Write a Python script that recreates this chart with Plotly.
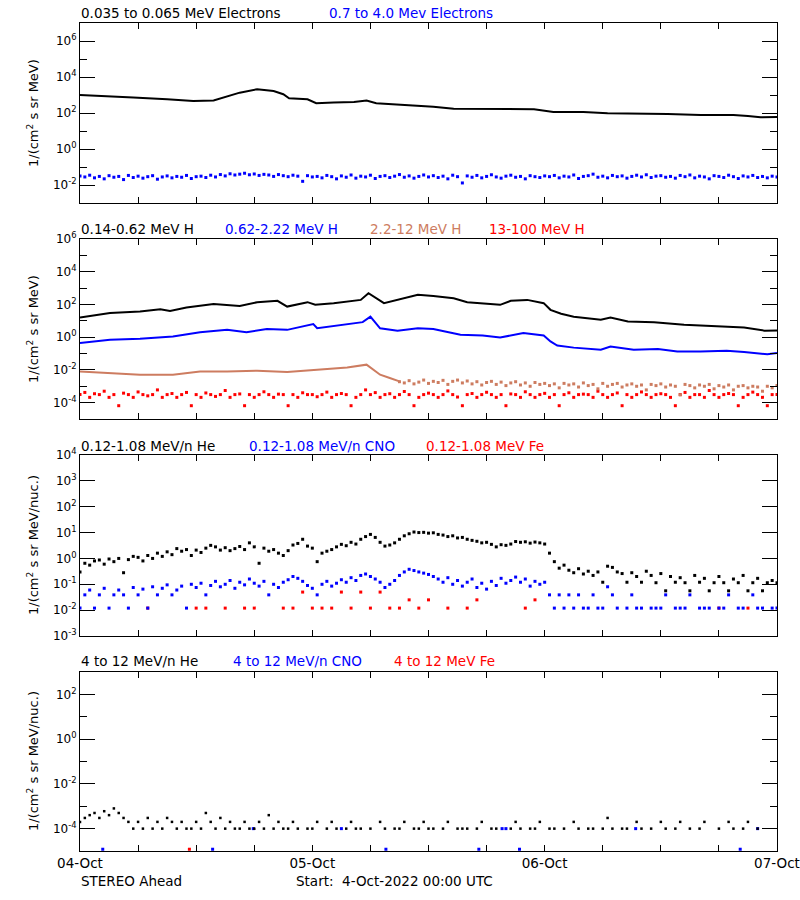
import numpy as np
import pandas as pd
import plotly.graph_objects as go

T0 = pd.Timestamp("2022-10-04 00:00")
T_END = pd.Timestamp("2022-10-07 00:00")


def to_time(hours):
    return T0 + pd.to_timedelta(np.asarray(hours, dtype=float), unit="h")


HALF_HOURS = np.arange(0, 72.5, 0.5)

# ---------------- Panel 1: electrons ----------------
e_lo_hours = [0, 3.1, 5.5, 9, 11.7, 13.8, 15.2, 16.5, 18.3, 20, 21, 21.6, 23.5, 24.4, 26.2, 28.3, 29.6, 30.6,
              32.7, 34.5, 36.5, 38.6, 41.7, 44, 46.9, 48.9, 52, 54.5, 57.3, 60.7, 64.1, 67.5, 69, 70.3, 72]
e_lo_vals = [1000, 870, 720, 580, 470, 500, 810, 1350, 2100, 1650, 1100, 660, 580, 350, 380, 410, 500, 350,
             295, 270, 225, 175, 175, 175, 160, 115, 115, 96, 95, 89, 78, 78, 68, 58, 60]

e_hi_vals = [0.032, 0.028, 0.035, 0.025, 0.030, 0.022, 0.033, 0.027, 0.030, 0.020, 0.034, 0.026, 0.031, 0.024,
             0.029, 0.033, 0.021, 0.028, 0.032, 0.025, 0.030, 0.027, 0.034, 0.023, 0.029,
             0.031, 0.026, 0.035, 0.028, 0.038, 0.032, 0.042, 0.036, 0.040, 0.045, 0.037, 0.041,
             0.034, 0.039, 0.036, 0.030, 0.038, 0.033, 0.029, 0.035, 0.031, 0.016, 0.033, 0.028,
             0.030, 0.025, 0.034, 0.029, 0.022, 0.032, 0.027, 0.036, 0.024, 0.031, 0.028, 0.035,
             0.023, 0.030, 0.033, 0.026, 0.031, 0.038, 0.027, 0.032, 0.024, 0.030, 0.036, 0.028,
             0.033, 0.026, 0.031, 0.022, 0.035, 0.029, 0.013, 0.032, 0.027, 0.034, 0.025, 0.030,
             0.037, 0.028, 0.024, 0.031, 0.035, 0.027, 0.030, 0.022, 0.033, 0.029, 0.026, 0.032,
             0.029, 0.034, 0.025, 0.031, 0.028, 0.036, 0.023, 0.030, 0.033, 0.040, 0.027, 0.031,
             0.025, 0.034, 0.029, 0.032, 0.024, 0.030, 0.035, 0.028, 0.037, 0.026, 0.031, 0.033,
             0.027, 0.030, 0.024, 0.034, 0.029, 0.036, 0.025, 0.031, 0.028, 0.022, 0.033, 0.030,
             0.026, 0.035, 0.029, 0.023, 0.032, 0.028, 0.034, 0.026, 0.030, 0.025, 0.031, 0.028]

# ---------------- Panel 2: protons ----------------
h1_hours = [0, 3.1, 6.2, 8.3, 9.3, 11, 13.8, 16.5, 18.3, 20.4, 21.4, 23.5, 24.3, 26.2, 29, 29.8, 31.4, 32.8,
            34.9, 36.5, 38.6, 40, 43.4, 44.5, 46.2, 47.9, 48.6, 49.7, 51, 53.8, 54.8, 56.6, 59.3, 62.4, 66.5,
            68.6, 70.7, 72]
h1_vals = [16, 30, 37, 51, 40, 65, 105, 81, 138, 166, 74, 138, 95, 120, 190, 490, 120, 190,
           390, 324, 240, 138, 95, 166, 190, 120, 47, 27, 18, 11.5, 16, 9.1, 8.3, 5.8, 4.5,
           3.9, 2.5, 2.6]

h2_hours = [0, 3.1, 6.2, 9.6, 12.4, 15.2, 17.2, 19.3, 21.4, 24.1, 24.5, 27.6, 29.2, 30, 31, 32.8, 34.9, 36.5,
            39.3, 41.6, 43.4, 45.8, 47.9, 48.6, 49.3, 51, 53.8, 54.8, 57.2, 59.7, 61.7, 64.1, 66.8, 68.6, 71, 72]
h2_vals = [0.44, 0.69, 0.79, 1.1, 2.0, 2.8, 2.0, 3.2, 2.8, 6.3, 3.5, 6.3, 8.3, 18, 3.5, 2.5, 3.5, 3.2,
           1.4, 1.26, 0.95, 1.8, 1.26, 0.55, 0.31, 0.23, 0.17, 0.27, 0.17, 0.19, 0.135, 0.135, 0.148, 0.123,
           0.091, 0.107]

h3_hours = [0, 3.1, 6.2, 9.6, 12.4, 15.2, 18.3, 21.4, 24.1, 27.6, 29.6, 30.2, 31, 32, 33]
h3_vals = [8.1e-3, 6.5e-3, 5.1e-3, 5.1e-3, 8.1e-3, 8.1e-3, 8.9e-3, 7.4e-3, 1.0e-2, 1.4e-2, 2.1e-2, 1.2e-2,
           5.1e-3, 3.2e-3, 2.0e-3]
h3_late_vals = [1.9e-3, 1.6e-3, 2.2e-3, 1.4e-3, 1.8e-3, 2.4e-3, 1.5e-3, 2.0e-3, 1.7e-3, 2.3e-3, 1.3e-3, 2.0e-3,
                2.4e-3, 1.6e-3, 2.1e-3, 1.4e-3, 1.9e-3, 1.2e-3, 1.7e-3, 2.0e-3, 1.3e-3, 1.8e-3, 1.1e-3, 1.6e-3,
                1.9e-3, 1.2e-3, 1.6e-3, 1.0e-3, 1.7e-3, 1.3e-3, 1.5e-3, 1.1e-3, 1.4e-3, 8e-4, 1.5e-3, 1.2e-3,
                1.4e-3, 9e-4, 1.6e-3, 1.1e-3, 1.3e-3, 7e-4, 1.5e-3, 1.0e-3, 1.3e-3, 1.5e-3, 9e-4, 1.2e-3,
                1.4e-3, 1.0e-3, 1.2e-3, 6e-4, 1.3e-3, 1.1e-3, 1.4e-3, 9e-4, 1.2e-3, 1.0e-3, 3e-4, 1.3e-3,
                1.1e-3, 8e-4, 1.2e-3, 1.0e-3, 1.3e-3, 7e-4, 1.1e-3, 9e-4, 1.2e-3, 6e-4, 1.0e-3, 1.1e-3,
                8e-4, 1.0e-3, 9e-4, 5e-4, 1.0e-3, 8e-4, 1.1e-3]

h4_vals = [3.1e-4, 4.2e-4, 2.1e-4, 3.5e-4, 3.1e-4, 5e-4, 2.1e-4, 3.1e-4, 6.5e-5, 3.8e-4, 3.1e-4, 2.1e-4,
           4.5e-4, 3.1e-4, 2.6e-4, 3.1e-4, 6e-4, 2.1e-4, 3.1e-4, 3.6e-4, 2.1e-4, 3.1e-4, 4.2e-4, 6.5e-5,
           3.1e-4, 2.1e-4, 3.9e-4, 3.1e-4, 2.4e-4, 3.1e-4, 5.5e-4, 2.1e-4, 3.1e-4, 3.4e-4, 6.5e-5, 3.1e-4,
           2.1e-4, 3.1e-4, 4.6e-4, 3.1e-4, 2.1e-4, 3.3e-4, 3.1e-4, 6.5e-5, 3.1e-4, 2.1e-4, 4e-4, 3.1e-4,
           3.1e-4, 2.3e-4, 3.1e-4, 4.4e-4, 2.1e-4, 3.1e-4, 3.6e-4, 3.1e-4, 6.5e-5, 2.1e-4, 3.1e-4, 6e-4,
           3.1e-4, 4.1e-4, 2.1e-4, 3.1e-4, 3.5e-4, 2.1e-4, 3.1e-4, 4.8e-4, 3.1e-4, 6.5e-5, 2.1e-4, 3.1e-4,
           3.8e-4, 3.1e-4, 2.1e-4, 3.1e-4, 5.2e-4, 3.1e-4, 2.2e-4, 6.5e-5, 3.1e-4, 3.6e-4, 2.1e-4, 3.1e-4,
           4.3e-4, 3.1e-4, 2.1e-4, 3.1e-4, 6.5e-5, 3.4e-4, 3.1e-4, 2.1e-4, 4.6e-4, 3.1e-4, 2.1e-4, 3.1e-4,
           3.7e-4, 2.1e-4, 3.1e-4, 6.5e-5, 3.1e-4, 4e-4, 2.1e-4, 3.1e-4, 3.3e-4, 3.1e-4, 2.1e-4, 5e-4,
           3.1e-4, 2.1e-4, 3.1e-4, 3.9e-4, 6.5e-5, 3.1e-4, 2.1e-4, 3.1e-4, 4.5e-4, 3.1e-4, 2.1e-4, 3.1e-4,
           3.5e-4, 3.1e-4, 2.1e-4, 6.5e-5, 3.1e-4, 4.2e-4, 2.1e-4, 3.1e-4, 3.1e-4, 2.1e-4, 5.5e-4, 3.1e-4,
           2.1e-4, 3.1e-4, 3.6e-4, 3.1e-4, 6.5e-5, 2.1e-4, 3.1e-4, 4.4e-4, 3.1e-4, 2.1e-4, 6.5e-5, 3.1e-4,
           3.1e-4]

# ---------------- Panel 3: low-energy ions ----------------
he_lo_vals = [0.30, 0.65, 0.55, 0.80, 0.87, 0.60, 0.95, 0.75, 1.0, 0.28, 0.90, 1.2,
              1.1, 0.80, 1.3, 1.0, 1.6, 1.2, 1.8, 1.4, 2.4, 1.9, 2.2, 1.3,
              2.1, 1.7, 2.5, 3.2, 2.8, 2.1, 2.6, 2.0, 2.4, 2.9, 2.2, 4.0,
              2.8, 0.65, 2.5, 1.9, 2.2, 1.6, 1.3, 2.0, 3.3, 3.8, 5.5, 3.0,
              2.5, 0.75, 1.6, 1.9, 2.2, 2.8, 3.5, 3.1, 4.2, 3.6, 5.5, 7.0,
              8.5, 6.5, 4.2, 3.0, 3.3, 4.0, 5.5, 7.5, 9.0, 10.5, 10.0, 10.2,
              9.5, 9.8, 8.5, 8.0, 7.0, 7.5, 6.2, 6.5, 5.5, 5.0, 4.6, 4.0,
              4.2, 3.5, 2.8, 3.4, 3.2, 3.6, 4.5, 4.2, 4.4, 3.9, 4.3, 4.0,
              3.6, 1.6, 0.75, 0.42, 0.55, 0.35, 0.28, 0.40, 0.25, 0.32, 0.22, 0.30,
              0.12, 0.50, 0.45, 0.30, 0.26, 0.12, 0.28, 0.20, 0.12, 0.32, 0.22, 0.115,
              0.26, 0.056, 0.20, 0.12, 0.18, 0.115, 0.056, 0.22, 0.12, 0.17, 0.056, 0.115,
              0.20, 0.115, 0.056, 0.16, 0.115, 0.22, 0.056, 0.115, 0.17, 0.056, 0.115, 0.14,
              0.115]

cno_lo_vals = [0.012, 0.039, 0.060, 0.012, 0.039, 0.070, 0.012, 0.039, 0.060, 0.039, 0.012, 0.075,
               0.039, 0.065, 0.012, 0.080, 0.039, 0.070, 0.095, 0.039, 0.060, 0.085, 0.012, 0.10,
               0.075, 0.11, 0.039, 0.090, 0.13, 0.080, 0.10, 0.14, 0.070, 0.12, 0.095, 0.16,
               0.11, 0.085, 0.13, 0.039, 0.10, 0.075, 0.12, 0.15, 0.20, 0.17, 0.13, 0.09,
               0.070, 0.039, 0.10, 0.13, 0.085, 0.11, 0.15, 0.12, 0.18, 0.14, 0.22, 0.25,
               0.20, 0.16, 0.12, 0.075, 0.10, 0.14, 0.22, 0.30, 0.38, 0.34, 0.30, 0.27,
               0.24, 0.20, 0.16, 0.12, 0.18, 0.10, 0.14, 0.085, 0.12, 0.16, 0.075, 0.11,
               0.065, 0.13, 0.09, 0.17, 0.11, 0.14, 0.19, 0.12, 0.16, 0.085, 0.13, 0.10,
               0.12, 0.039, 0.012, 0.039, 0.012, 0.039, 0.012, 0.039, 0.012, 0.012, 0.039, 0.012,
               0.012, 0.08, 0.039, 0.012, None, 0.012, 0.039, 0.012, 0.012, None, 0.012, 0.012,
               0.012, 0.039, None, 0.012, 0.012, 0.012, 0.039, None, 0.012, 0.012, 0.012, None,
               0.012, 0.012, 0.039, None, 0.012, 0.012, None, 0.039, 0.012, 0.012, None, 0.012,
               0.012]

fe_lo_vals = [None, None, None, None, None, None, None, 0.012, None, None, None, None,
              0.012, 0.012, None, 0.012, None, 0.012, 0.012, None, None, 0.012, 0.012, 0.05,
              0.012, 0.012, 0.012, 0.05, 0.012, 0.05, 0.012, 0.05, 0.012, 0.012, 0.025, 0.012,
              0.025, None, 0.012, None, 0.012, 0.025, None, None, None, None, 0.012, 0.025,
              None, None, None, None, None, None, None, None, None, None, None, None,
              None, None, None, None, None, None, 0.012, None, None, 0.012, None, None,
              None]

# ---------------- Panel 4: high-energy ions ----------------
he_hi_vals = [2e-4, 3e-4, 4e-4, 5e-4, 3e-4, 6e-4, 4e-4, 8e-4, 5e-4, 3e-4, 2e-4, 1e-4,
              2e-4, 1e-4, 3e-4, 1e-4, 2e-4, 1e-4, 3e-4, 2e-4, 1e-4, 2e-4, 1e-4, 1e-4,
              2e-4, 1e-4, 5e-4, 2e-4, 1e-4, 3e-4, 1e-4, 2e-4, 1e-4, 1e-4, 2e-4, 1e-4,
              1e-4, 2e-4, 1e-4, 4e-4, 1e-4, 2e-4, 1e-4, 1e-4, 2e-4, 1e-4, None, 1e-4,
              1e-4, 2e-4, None, 1e-4, 2e-4, 1e-4, None, 1e-4, 2e-4, 1e-4, 1e-4, None,
              1e-4, None, 2e-4, 1e-4, None, 1e-4, 1e-4, 2e-4, None, 1e-4, 1e-4, 2e-4,
              1e-4, 1e-4, None, 1e-4, 2e-4, None, 1e-4, 1e-4, 1e-4, None, 1e-4, 2e-4,
              None, 1e-4, 1e-4, None, None, 1e-4, 2e-4, 1e-4, None, 1e-4, 1e-4, 2e-4,
              None, 1e-4, 1e-4, None, 1e-4, None, 2e-4, 1e-4, None, 1e-4, 1e-4, None,
              1e-4, 3e-4, 1e-4, None, 1e-4, 1e-4, None, 2e-4, 1e-4, None, 1e-4, None,
              2e-4, 1e-4, None, 1e-4, 2e-4, None, 1e-4, None, 1e-4, 2e-4, None, None,
              1e-4, None, 2e-4, 1e-4, None, 1e-4, 2e-4, None, 1e-4, None, None, None,
              None]

cno_hi_hours = [2.35, 13.7, 17.9, 27.0, 31.6, 41.2, 43.6, 44.0, 45.4, 57.4, 68.2, 70.0]
cno_hi_vals = [1.2e-5, 1.2e-5, 1e-4, 1e-4, 1.2e-5, 1.2e-5, 1e-4, 1e-4, 1.2e-5, 1e-4, 1.2e-5, 1e-4]

fe_hi_hours = [11.3]
fe_hi_vals = [1.2e-5]

# ---------------- styling ----------------
BLACK = "#000000"
BLUE = "#0000ff"
BROWN = "#cd7c60"
RED = "#ff0000"
FONT = "DejaVu Sans"

fig = go.Figure()


def line(hours, vals, color, ax, width=2):
    fig.add_trace(go.Scatter(x=to_time(hours), y=vals, mode="lines",
                             line=dict(color=color, width=width),
                             xaxis=ax[0], yaxis=ax[1], hoverinfo="skip"))


def dots(hours, vals, color, ax, size=3):
    fig.add_trace(go.Scatter(x=to_time(hours), y=vals, mode="markers",
                             marker=dict(color=color, size=size, symbol="square", line=dict(width=0)),
                             xaxis=ax[0], yaxis=ax[1], hoverinfo="skip"))


A1, A2, A3, A4 = ("x", "y"), ("x2", "y2"), ("x3", "y3"), ("x4", "y4")

line(e_lo_hours, e_lo_vals, BLACK, A1)
dots(HALF_HOURS, e_hi_vals, BLUE, A1)

dots(HALF_HOURS, h4_vals, RED, A2)
dots(HALF_HOURS[66:], h3_late_vals, BROWN, A2)
line(h3_hours, h3_vals, BROWN, A2)
line(h2_hours, h2_vals, BLUE, A2)
line(h1_hours, h1_vals, BLACK, A2)

dots(np.arange(0, 73, 1), fe_lo_vals, RED, A3)
dots(HALF_HOURS, cno_lo_vals, BLUE, A3)
dots(HALF_HOURS, he_lo_vals, BLACK, A3)

dots(fe_hi_hours, fe_hi_vals, RED, A4)
dots(cno_hi_hours, cno_hi_vals, BLUE, A4)
dots(HALF_HOURS, he_hi_vals, BLACK, A4, size=2.5)

# ---------------- axes ----------------
day_ticks = list(pd.date_range(T0, T_END, freq="1D"))
day_labels = ["04-Oct", "05-Oct", "06-Oct", "07-Oct"]
six_hour_ticks = list(pd.date_range(T0, T_END, freq="6h"))


def sup(e):
    return "10<sup>%d</sup>" % e


def xaxis(anchor, labels):
    return dict(type="date", range=[T0, T_END], anchor=anchor, domain=[0, 1], automargin=False,
                tickmode="array", tickvals=day_ticks, ticktext=day_labels, ticklabeloverflow="allow",
                showticklabels=labels, ticks="inside", ticklen=6, tickwidth=1, tickcolor=BLACK,
                minor=dict(tickmode="array", tickvals=six_hour_ticks, ticks="inside", ticklen=6,
                           tickwidth=1, tickcolor=BLACK, showgrid=False),
                showline=True, linecolor=BLACK, linewidth=1, mirror="ticks",
                showgrid=False, zeroline=False, tickfont=dict(family=FONT, size=13.5, color=BLACK))


def yaxis(anchor, domain, lo, hi, majors, minors):
    return dict(type="log", range=[lo, hi], anchor=anchor, domain=domain, automargin=False,
                tickmode="array", tickvals=[10.0 ** e for e in majors], ticktext=[sup(e) for e in majors],
                ticks="inside", ticklen=15, tickwidth=1, tickcolor=BLACK,
                minor=dict(tickmode="array", tickvals=[10.0 ** e for e in minors], ticks="inside",
                           ticklen=7, tickwidth=1, tickcolor=BLACK, showgrid=False),
                showline=True, linecolor=BLACK, linewidth=1, mirror="ticks",
                showgrid=False, zeroline=False, tickfont=dict(family=FONT, size=12, color=BLACK))


# plot area in page pixels (the page body margin is removed by the post script)
P_LEFT, P_RIGHT, P_TOP, P_BOT = 80, 777, 23, 851
PW = P_RIGHT - P_LEFT
PH = P_BOT - P_TOP


def dom(top_px, bot_px):
    return [(P_BOT - bot_px) / PH, (P_BOT - top_px) / PH]


fig.update_layout(
    width=800, height=900,
    margin=dict(l=P_LEFT, r=800 - P_RIGHT, t=P_TOP, b=900 - P_BOT, pad=0, autoexpand=False),
    paper_bgcolor="white", plot_bgcolor="white", showlegend=False,
    font=dict(family=FONT, size=12, color=BLACK),
    xaxis=xaxis("y", False), xaxis2=xaxis("y2", False), xaxis3=xaxis("y3", False), xaxis4=xaxis("y4", True),
    yaxis=yaxis("x", dom(23, 203), -3, 7, [-2, 0, 2, 4, 6], [-1, 1, 3, 5]),
    yaxis2=yaxis("x2", dom(239, 419), -5, 6, [-4, -2, 0, 2, 4, 6], [-3, -1, 1, 3, 5]),
    yaxis3=yaxis("x3", dom(455, 636), -3, 4, [-3, -2, -1, 0, 1, 2, 3, 4], []),
    yaxis4=yaxis("x4", dom(672, 851), -5, 3, [-4, -2, 0, 2], [-3, -1, 1]),
)


def px_x(px):
    return (px - P_LEFT) / PW


def px_y(py):
    return (P_BOT - py) / PH


titles = [
    (13, [(80, "0.035 to 0.065 MeV Electrons", BLACK), (328, "0.7 to 4.0 Mev Electrons", BLUE)]),
    (229, [(80, "0.14-0.62 MeV H", BLACK), (224, "0.62-2.22 MeV H", BLUE),
           (369, "2.2-12 MeV H", BROWN), (488, "13-100 MeV H", RED)]),
    (446, [(80, "0.12-1.08 MeV/n He", BLACK), (248, "0.12-1.08 MeV/n CNO", BLUE),
           (425, "0.12-1.08 MeV Fe", RED)]),
    (661, [(80, "4 to 12 MeV/n He", BLACK), (232, "4 to 12 MeV/n CNO", BLUE),
           (393, "4 to 12 MeV Fe", RED)]),
]
annotations = []
for ypx, items in titles:
    for xpx, text, color in items:
        annotations.append(dict(x=px_x(xpx), y=px_y(ypx), xref="paper", yref="paper", text=text,
                                showarrow=False, xanchor="left", yanchor="middle", borderpad=0,
                                font=dict(family=FONT, size=13.5, color=color)))

ylabels = [(113, "1/(cm<sup>2</sup> s sr MeV)"), (329, "1/(cm<sup>2</sup> s sr MeV)"),
           (545, "1/(cm<sup>2</sup> s sr MeV/nuc.)"), (761, "1/(cm<sup>2</sup> s sr MeV/nuc.)")]
for ypx, text in ylabels:
    annotations.append(dict(x=px_x(33), y=px_y(ypx), xref="paper", yref="paper", text=text,
                            showarrow=False, xanchor="center", yanchor="middle", textangle=-90,
                            font=dict(family=FONT, size=13, color=BLACK)))

annotations.append(dict(x=px_x(80), y=px_y(881), xref="paper", yref="paper", text="STEREO Ahead",
                        showarrow=False, xanchor="left", yanchor="middle", borderpad=0,
                        font=dict(family=FONT, size=13.5, color=BLACK)))
annotations.append(dict(x=px_x(295), y=px_y(881), xref="paper", yref="paper",
                        text="Start:  4-Oct-2022 00:00 UTC",
                        showarrow=False, xanchor="left", yanchor="middle", borderpad=0,
                        font=dict(family=FONT, size=13.5, color=BLACK)))

fig.update_layout(annotations=annotations)
fig.write_html("out.html", config={"displayModeBar": False, "staticPlot": True},
               post_script="document.body.style.margin='0';document.body.style.overflow='hidden';")
